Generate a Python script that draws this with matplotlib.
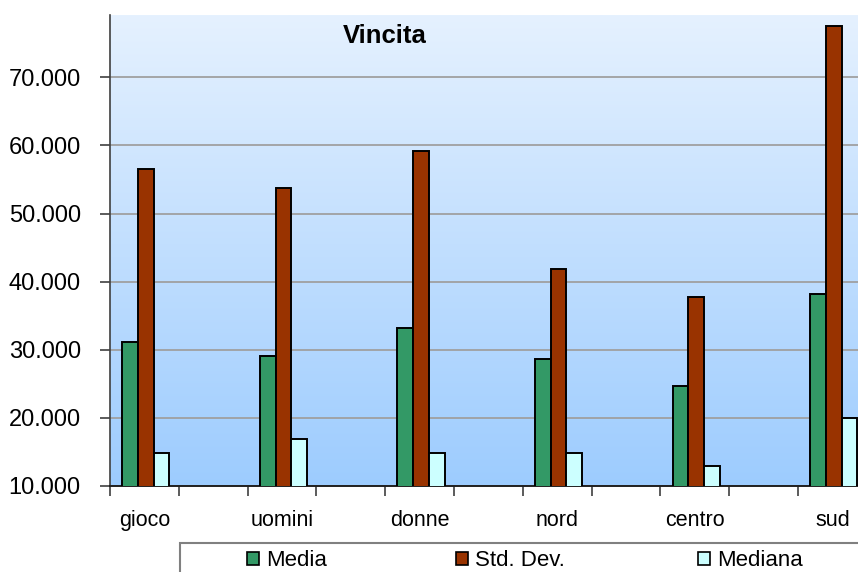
import numpy as np
import matplotlib.pyplot as plt
from matplotlib.ticker import FixedLocator, FuncFormatter
from matplotlib.patches import Patch, Rectangle

plt.rcParams['font.family'] = ['Liberation Sans', 'DejaVu Sans']

# categories and statistics of the winnings
categories = ['gioco', 'uomini', 'donne', 'nord', 'centro', 'sud']
media = [31200, 29100, 33250, 28600, 24700, 38200]
std_dev = [56550, 53700, 59150, 41800, 37700, 77600]
mediana = [14900, 16900, 14900, 14900, 13000, 20000]

series_names = ['Media', 'Std. Dev.', 'Mediana']
series_colors = ['#339966', '#993300', '#CCFFFF']

fig = plt.figure(figsize=(8.58, 5.72), dpi=100)
W, H = 858, 572
ax = fig.add_axes([110 / W, (H - 486) / H, (W - 110) / W, (486 - 15) / H])

# every category takes two slots, the second one stays empty
x = np.arange(len(categories)) * 2
width = 0.228
for i, (vals, col) in enumerate(zip([media, std_dev, mediana], series_colors)):
    ax.bar(x + (i - 1) * width + 0.02, vals, width=width, bottom=0, color=col,
           edgecolor='black', linewidth=1.4, zorder=3)

ax.set_xlim(-0.5, -0.5 + 748 / 68.8)
ax.set_ylim(10000, 79160)

# light blue gradient behind the bars
grad = np.linspace(0, 1, 256).reshape(-1, 1)
top = np.array([229, 241, 254]) / 255
bot = np.array([157, 204, 255]) / 255
img = top + (bot - top) * grad[:, :, None]
ax.imshow(img, aspect='auto', extent=(*ax.get_xlim(), 10000, 79160),
          origin='upper', zorder=0)

ax.yaxis.set_major_locator(FixedLocator(np.arange(10000, 70001, 10000)))
ax.yaxis.set_major_formatter(FuncFormatter(lambda v, p: f"{int(v):,}".replace(",", ".")))
ax.grid(axis='y', color='#A0A0A0', linewidth=1.3, zorder=1)
ax.set_axisbelow(True)

ax.set_xticks(x)
ax.set_xticklabels(categories)
ax.set_xticks(np.arange(-0.5, 10.5, 1), minor=True)
ax.tick_params(axis='x', which='major', length=0, pad=17, labelsize=15.5)
ax.tick_params(axis='x', which='minor', length=7, width=1.2, color='#404040')
ax.tick_params(axis='y', length=7, width=1.2, color='#404040', pad=14, labelsize=17)

for side in ['top', 'right']:
    ax.spines[side].set_visible(False)
ax.spines['left'].set_color('#404040')
ax.spines['left'].set_linewidth(1.2)
ax.spines['bottom'].set_color('#202020')
ax.spines['bottom'].set_linewidth(1.4)

fig.text(385 / W, 1 - 36 / H, 'Vincita', ha='center', va='center',
         fontsize=18.5, fontweight='bold')

# legend frame runs off the lower right corner
fig.patches.append(Rectangle((180 / W, -0.1), 1.0, 0.1 + (H - 543) / H,
                             transform=fig.transFigure, facecolor='white',
                             edgecolor='#808080', linewidth=1.5, zorder=0))
legend_x = [247, 456, 698]
for name, col, lx in zip(series_names, series_colors, legend_x):
    fig.legend(handles=[Patch(facecolor=col, edgecolor='black', linewidth=1.2)],
               labels=[name], loc='center left', frameon=False,
               bbox_to_anchor=(lx / W, 1 - 561 / H), fontsize=16,
               handlelength=0.55, handleheight=0.55, handletextpad=0.3,
               borderpad=0, borderaxespad=0)

fig.savefig('out.png', dpi=100)
